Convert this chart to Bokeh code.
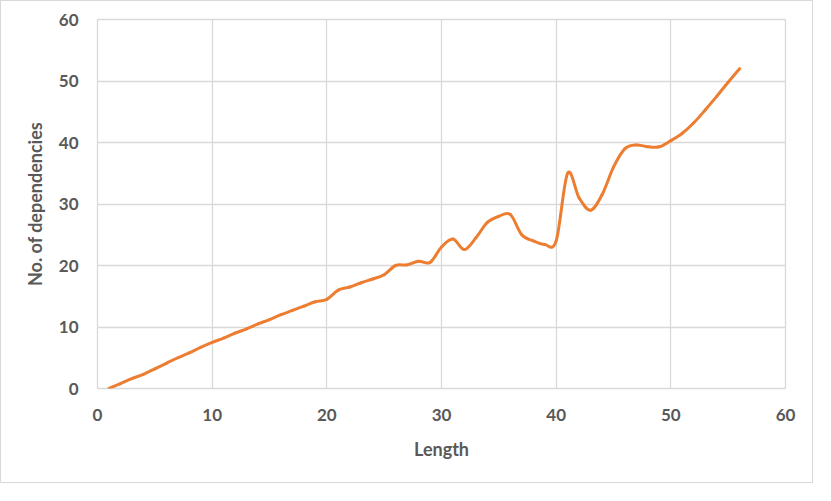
from bokeh.plotting import figure
from bokeh.models import Range1d, FixedTicker
from bokeh.embed import file_html
from bokeh.resources import INLINE

# Data
length = list(range(1, 57))
dependencies = [
    0.0, 0.8, 1.6, 2.3, 3.2, 4.1, 5.0, 5.8, 6.7, 7.5,
    8.2, 9.0, 9.7, 10.5, 11.2, 12.0, 12.7, 13.4, 14.1, 14.5,
    16.0, 16.5, 17.2, 17.8, 18.5, 20.0, 20.1, 20.7, 20.5, 23.0,
    24.3, 22.6, 24.5, 27.0, 28.0, 28.3, 25.0, 24.0, 23.4, 24.0,
    35.0, 31.0, 29.0, 31.5, 36.0, 39.0, 39.6, 39.3, 39.3, 40.3,
    41.5, 43.2, 45.3, 47.5, 49.8, 52.0,
]
x_ticks = [0, 10, 20, 30, 40, 50, 60]
y_ticks = [0, 10, 20, 30, 40, 50, 60]

FONT = "Lato"
TXT = "#595959"
GRID = "#d9d9d9"
ORANGE = "#ED7D31"

p = figure(width=813, height=483, output_backend="svg", toolbar_location=None,
           x_range=Range1d(0, 60), y_range=Range1d(0, 60))
p.styles = {"border": "1px solid #d9d9d9"}
p.min_border_left = 96
p.min_border_right = 29
p.min_border_top = 18
p.min_border_bottom = 96
p.outline_line_color = GRID
p.outline_line_width = 1.3
p.background_fill_color = "white"
p.border_fill_color = "white"

# Smoothed line (Excel-style: cubic Bezier with Catmull-Rom control points)
n = len(length)
x0, y0, x1, y1, cx0, cy0, cx1, cy1 = [], [], [], [], [], [], [], []
for i in range(n - 1):
    xp, yp = (length[i - 1], dependencies[i - 1]) if i > 0 else (length[i], dependencies[i])
    xa, ya = length[i], dependencies[i]
    xb, yb = length[i + 1], dependencies[i + 1]
    xn, yn = (length[i + 2], dependencies[i + 2]) if i + 2 < n else (xb, yb)
    x0.append(xa); y0.append(ya); x1.append(xb); y1.append(yb)
    cx0.append(xa + (xb - xp) / 6.0); cy0.append(ya + (yb - yp) / 6.0)
    cx1.append(xb - (xn - xa) / 6.0); cy1.append(yb - (yn - ya) / 6.0)

p.bezier(x0=x0, y0=y0, x1=x1, y1=y1, cx0=cx0, cy0=cy0, cx1=cx1, cy1=cy1,
         line_color=ORANGE, line_width=3, line_cap="round", line_join="round")

for ax, ticks in ((p.xaxis, x_ticks), (p.yaxis, y_ticks)):
    ax.ticker = FixedTicker(ticks=ticks)
    ax.axis_line_color = None
    ax.major_tick_line_color = None
    ax.minor_tick_line_color = None
    ax.major_label_text_font = FONT
    ax.major_label_text_font_style = "bold"
    ax.major_label_text_font_size = "17px"
    ax.major_label_text_color = TXT
    ax.axis_label_text_font = FONT
    ax.axis_label_text_font_style = "bold"
    ax.axis_label_text_font_size = "18px"
    ax.axis_label_text_color = TXT

p.xaxis.axis_label = "Length"
p.yaxis.axis_label = "No. of dependencies"
p.xaxis.major_label_standoff = 14
p.yaxis.major_label_standoff = 13
p.xaxis.axis_label_standoff = 14
p.yaxis.axis_label_standoff = 10

p.xgrid.grid_line_color = GRID
p.ygrid.grid_line_color = GRID
p.xgrid.grid_line_width = 1.3
p.ygrid.grid_line_width = 1.3

open("out.html", "w").write(file_html(p, INLINE))
